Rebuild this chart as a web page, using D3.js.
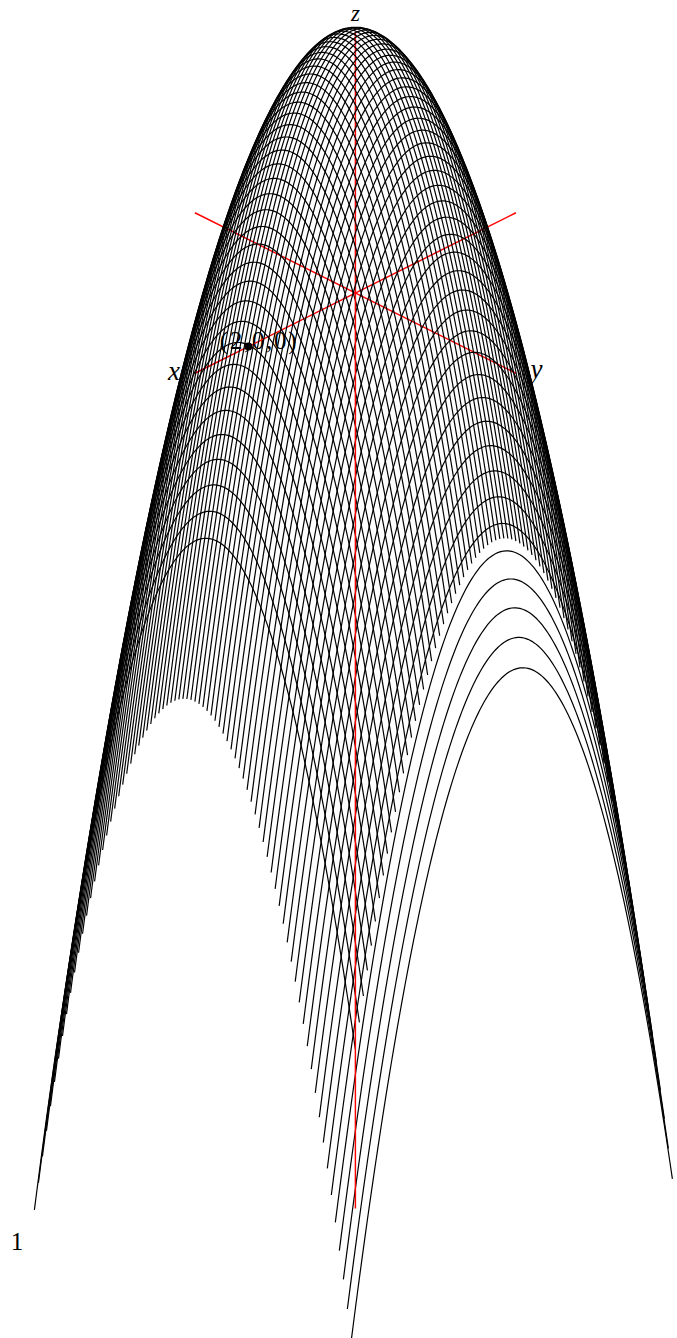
<!DOCTYPE html>
<html><head><meta charset="utf-8">
<script src="https://cdn.jsdelivr.net/npm/d3@7"></script>
<style>html,body{margin:0;padding:0;background:#fff}svg{display:block}</style></head>
<body><script>
// y = const curves of the surface, each traced across the full x span
const yLevels = [-3,-2.925,-2.85,-2.775,-2.7,-2.625,-2.55,-2.475,-2.4,-2.325,-2.25,-2.175,-2.1,-2.025,-1.95,-1.875,-1.8,-1.725,-1.65,-1.575,-1.5,-1.425,-1.35,-1.275,-1.2,-1.125,-1.05,-0.975,-0.9,-0.825,-0.75,-0.675,-0.6,-0.525,-0.45,-0.375,-0.3,-0.225,-0.15,-0.075,0,0.075,0.15,0.225,0.3,0.375,0.45,0.525,0.6,0.675,0.75,0.825,0.9,0.975,1.05,1.125,1.2,1.275,1.35,1.425,1.5,1.575,1.65,1.725,1.8,1.875,1.95,2.025,2.1,2.175,2.25,2.325,2.4,2.475,2.55,2.625,2.7,2.775,2.85,2.925];
const xSpan = [-3,3];
const peak = [3.98];
const axesBehind = [
 {from:[-3,0,0],to:[3,0,0]},
 {from:[0,-3,0],to:[0,3,0]},
 {from:[0,0,0],to:[0,0,4]}];
const axesInFront = [{from:[0,0,-14],to:[0,0,0]}];
const axisLabels = ["x","y","z"];
const axisTips = [[3,0,0],[0,3,0],[0,0,4]];
const pointMark = [2,0,0];
const pointLabel = "(2,0,0)";
const cornerLabel = "1";

const W=677,H=1338;
const svg=d3.select("body").append("svg").attr("width",W).attr("height",H);
const across=d3.scaleLinear().domain([-1,1]).range([355.4-53.5,355.4+53.5]);  // y - x
const depth=d3.scaleLinear().domain([-1,1]).range([293-26.75,293+26.75]); // x + y
const rise=d3.scaleLinear().domain([0,1]).range([0,-65.4]);               // z
const px=p=>[across(p[1]-p[0]),depth(p[0]+p[1])+rise(p[2])];
const surf=(x,y)=>peak[0]-x*x-y*y;
const line=d3.line().x(d=>px(d)[0]).y(d=>px(d)[1]);
const steps=160;
const sample=([a,b])=>d3.range(steps+1).map(i=>a+(b-a)*i/steps);

const serif="'Liberation Serif','DejaVu Serif',serif";
const labelNudge=[[-21,7],[20.5,5],[0,-10.8]];
const labelSize=[27,27,23];
svg.append("text").attr("x",259).attr("y",349).attr("text-anchor","middle")
  .attr("font-family",serif).attr("font-size",25).attr("letter-spacing",1.7).attr("fill","#000").text(pointLabel);
svg.selectAll("text.lab").data(axisLabels).join("text").attr("class","lab")
  .attr("x",(d,i)=>px(axisTips[i])[0]+labelNudge[i][0])
  .attr("y",(d,i)=>px(axisTips[i])[1]+labelNudge[i][1])
  .attr("text-anchor","middle").attr("font-family",serif).attr("font-style","italic")
  .attr("font-size",(d,i)=>labelSize[i]).attr("fill","#000").text(d=>d);
svg.append("text").attr("x",17).attr("y",1250).attr("text-anchor","middle")
  .attr("font-family",serif).attr("font-size",25).attr("fill","#000").text(cornerLabel);

const drawAxes=(data,cls)=>svg.append("g").attr("class",cls).attr("stroke","#f00").attr("stroke-width",1.45)
  .selectAll("line").data(data).join("line")
  .attr("x1",d=>px(d.from)[0]).attr("y1",d=>px(d.from)[1])
  .attr("x2",d=>px(d.to)[0]).attr("y2",d=>px(d.to)[1]);

drawAxes(axesBehind,"behind");
svg.append("g").attr("fill","none").attr("stroke","#000").attr("stroke-width",1.2)
  .selectAll("path").data(yLevels).join("path")
  .attr("d",y=>line(sample(xSpan).map(x=>[x,y,surf(x,y)])));
drawAxes(axesInFront,"front");
svg.append("circle").attr("cx",px(pointMark)[0]).attr("cy",px(pointMark)[1]).attr("r",4).attr("fill","#000");
</script></body></html>
